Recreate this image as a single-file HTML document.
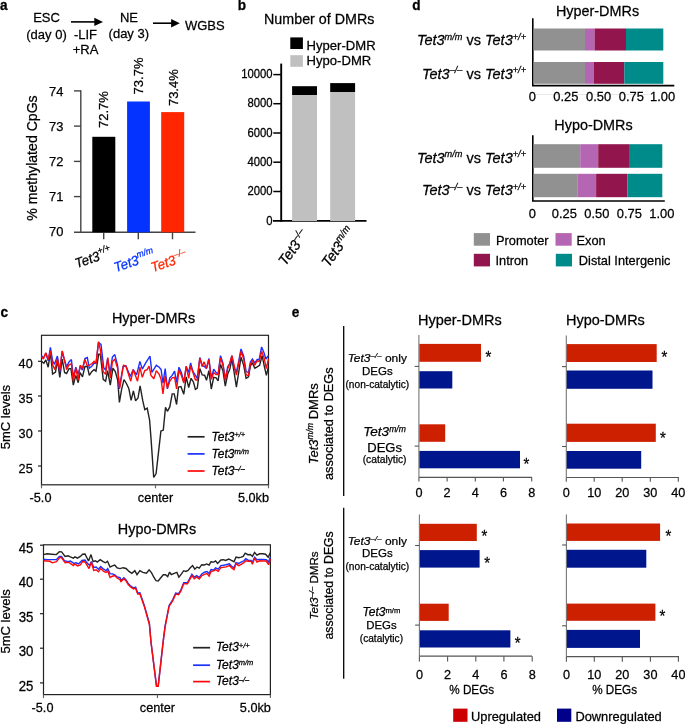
<!DOCTYPE html>
<html><head><meta charset="utf-8"><style>
html,body{margin:0;padding:0;background:#fff;}
body{width:685px;height:724px;overflow:hidden;}
svg{display:block;font-family:"Liberation Sans", sans-serif;-webkit-font-smoothing:antialiased;will-change:transform;}
</style></head><body>
<svg width="685" height="724" viewBox="0 0 685 724">
<rect width="685" height="724" fill="#fff"/>
<text transform="translate(0.1,10) scale(1,1.06)" font-size="13.6" text-anchor="start" font-weight="bold" font-style="normal" fill="#000" stroke="#000" stroke-width="0.25">a</text>
<text transform="translate(237.8,10) scale(1,1.06)" font-size="13.6" text-anchor="start" font-weight="bold" font-style="normal" fill="#000" stroke="#000" stroke-width="0.25">b</text>
<text transform="translate(412.3,10) scale(1,1.06)" font-size="13.6" text-anchor="start" font-weight="bold" font-style="normal" fill="#000" stroke="#000" stroke-width="0.25">d</text>
<text transform="translate(0.4,316.7) scale(1,1.06)" font-size="13.6" text-anchor="start" font-weight="bold" font-style="normal" fill="#000" stroke="#000" stroke-width="0.25">c</text>
<text transform="translate(291.8,316.7) scale(1,1.06)" font-size="13.6" text-anchor="start" font-weight="bold" font-style="normal" fill="#000" stroke="#000" stroke-width="0.25">e</text>
<text transform="translate(46.5,22.4) scale(1,1.04)" font-size="13.0" text-anchor="middle" font-weight="normal" font-style="normal" fill="#000" stroke="#000" stroke-width="0.25">ESC</text>
<text transform="translate(46.5,38.5) scale(1,1.04)" font-size="13.0" text-anchor="middle" font-weight="normal" font-style="normal" fill="#000" stroke="#000" stroke-width="0.25">(day 0)</text>
<text transform="translate(85.5,38.5) scale(1,1.04)" font-size="13.0" text-anchor="middle" font-weight="normal" font-style="normal" fill="#000" stroke="#000" stroke-width="0.25">-LIF</text>
<text transform="translate(85.5,53.5) scale(1,1.04)" font-size="13.0" text-anchor="middle" font-weight="normal" font-style="normal" fill="#000" stroke="#000" stroke-width="0.25">+RA</text>
<text transform="translate(129,22.2) scale(1,1.04)" font-size="13.0" text-anchor="middle" font-weight="normal" font-style="normal" fill="#000" stroke="#000" stroke-width="0.25">NE</text>
<text transform="translate(128.8,38) scale(1,1.04)" font-size="13.0" text-anchor="middle" font-weight="normal" font-style="normal" fill="#000" stroke="#000" stroke-width="0.25">(day 3)</text>
<text transform="translate(185,29.8) scale(1,1.04)" font-size="13" text-anchor="start" font-weight="normal" font-style="normal" fill="#000" stroke="#000" stroke-width="0.25">WGBS</text>
<line x1="71" y1="21.9" x2="96.5" y2="21.9" stroke="#000" stroke-width="1.6"/>
<polygon points="94.3,17.7 103.0,21.9 94.3,26.099999999999998" fill="#000"/>
<line x1="153" y1="23.2" x2="173.3" y2="23.2" stroke="#000" stroke-width="1.6"/>
<polygon points="171.10000000000002,19.0 179.8,23.2 171.10000000000002,27.4" fill="#000"/>
<line x1="80.8" y1="90.3" x2="80.8" y2="232.3" stroke="#444" stroke-width="1.4"/>
<line x1="74" y1="232.3" x2="195.5" y2="232.3" stroke="#444" stroke-width="1.4"/>
<line x1="74" y1="90.9" x2="81" y2="90.9" stroke="#444" stroke-width="1.4"/>
<line x1="74" y1="126.1" x2="81" y2="126.1" stroke="#444" stroke-width="1.4"/>
<line x1="74" y1="161.4" x2="81" y2="161.4" stroke="#444" stroke-width="1.4"/>
<line x1="74" y1="196.6" x2="81" y2="196.6" stroke="#444" stroke-width="1.4"/>
<text transform="translate(63.4,96.1) scale(1,1.0)" font-size="12.9" text-anchor="end" font-weight="normal" font-style="normal" fill="#000" stroke="#000" stroke-width="0.25">74</text>
<text transform="translate(63.4,131.3) scale(1,1.0)" font-size="12.9" text-anchor="end" font-weight="normal" font-style="normal" fill="#000" stroke="#000" stroke-width="0.25">73</text>
<text transform="translate(63.4,166.1) scale(1,1.0)" font-size="12.9" text-anchor="end" font-weight="normal" font-style="normal" fill="#000" stroke="#000" stroke-width="0.25">72</text>
<text transform="translate(63.4,200.8) scale(1,1.0)" font-size="12.9" text-anchor="end" font-weight="normal" font-style="normal" fill="#000" stroke="#000" stroke-width="0.25">71</text>
<text transform="translate(63.4,236.1) scale(1,1.0)" font-size="12.9" text-anchor="end" font-weight="normal" font-style="normal" fill="#000" stroke="#000" stroke-width="0.25">70</text>
<line x1="103.7" y1="232" x2="103.7" y2="239.3" stroke="#444" stroke-width="1.4"/>
<line x1="138.3" y1="232" x2="138.3" y2="239.3" stroke="#444" stroke-width="1.4"/>
<line x1="172.5" y1="232" x2="172.5" y2="239.3" stroke="#444" stroke-width="1.4"/>
<rect x="92.3" y="136.8" width="23" height="95.5" fill="#000"/>
<rect x="127.1" y="101.5" width="22.8" height="130.8" fill="#0433FF"/>
<rect x="161.2" y="112.1" width="23" height="120.2" fill="#FF2600"/>
<text transform="translate(107.5,128) rotate(-90) scale(1,1.0)" font-size="13" text-anchor="start" font-weight="normal" font-style="normal" fill="#000" stroke="#000" stroke-width="0.25">72.7%</text>
<text transform="translate(142.6,94.4) rotate(-90) scale(1,1.0)" font-size="13" text-anchor="start" font-weight="normal" font-style="normal" fill="#000" stroke="#000" stroke-width="0.25">73.7%</text>
<text transform="translate(178.3,106.1) rotate(-90) scale(1,1.0)" font-size="13" text-anchor="start" font-weight="normal" font-style="normal" fill="#000" stroke="#000" stroke-width="0.25">73.4%</text>
<text transform="translate(37.3,158) rotate(-90) scale(1,1.0)" font-size="14.1" text-anchor="middle" font-weight="normal" font-style="normal" fill="#000" stroke="#000" stroke-width="0.25">% methylated CpGs</text>
<text transform="translate(76.8,268.2) rotate(-19) scale(1,1.04)" font-size="13.2" text-anchor="start" font-weight="normal" font-style="italic" fill="#000" stroke="#000" stroke-width="0.25">Tet3<tspan font-size="8.8" dy="-6">+/+</tspan></text>
<text transform="translate(115.8,272.2) rotate(-19) scale(1,1.04)" font-size="13.2" text-anchor="start" font-weight="normal" font-style="italic" fill="#0433FF" stroke="#0433FF" stroke-width="0.25">Tet3<tspan font-size="8.8" dy="-6">m/m</tspan></text>
<text transform="translate(152.8,272.2) rotate(-19) scale(1,1.04)" font-size="13.2" text-anchor="start" font-weight="normal" font-style="italic" fill="#FF2600" stroke="#FF2600" stroke-width="0.25">Tet3<tspan font-size="8.8" dy="-6">&#8211;/&#8211;</tspan></text>
<text transform="translate(319.2,24) scale(1,1.04)" font-size="14.3" text-anchor="middle" font-weight="normal" font-style="normal" fill="#000" stroke="#000" stroke-width="0.25">Number of DMRs</text>
<rect x="290.3" y="37.4" width="12.6" height="11.6" fill="#000"/>
<rect x="290.3" y="55.2" width="12.6" height="11.6" fill="#C0C0C0"/>
<text transform="translate(306.5,49.8) scale(1,1.04)" font-size="13.1" text-anchor="start" font-weight="normal" font-style="normal" fill="#000" stroke="#000" stroke-width="0.25">Hyper-DMR</text>
<text transform="translate(306.5,65.4) scale(1,1.04)" font-size="13.1" text-anchor="start" font-weight="normal" font-style="normal" fill="#000" stroke="#000" stroke-width="0.25">Hypo-DMR</text>
<line x1="281.2" y1="63.6" x2="281.2" y2="221.8" stroke="#000" stroke-width="1.9"/>
<line x1="273" y1="220.9" x2="366.5" y2="220.9" stroke="#000" stroke-width="1.8"/>
<line x1="273.3" y1="74.6" x2="281" y2="74.6" stroke="#000" stroke-width="1.5"/>
<text transform="translate(272.5,78.19999999999999) scale(1,1.09)" font-size="11.3" text-anchor="end" font-weight="normal" font-style="normal" fill="#000" stroke="#000" stroke-width="0.25">10000</text>
<line x1="273.3" y1="103.7" x2="281" y2="103.7" stroke="#000" stroke-width="1.5"/>
<text transform="translate(272.5,107.3) scale(1,1.09)" font-size="11.3" text-anchor="end" font-weight="normal" font-style="normal" fill="#000" stroke="#000" stroke-width="0.25">8000</text>
<line x1="273.3" y1="133" x2="281" y2="133" stroke="#000" stroke-width="1.5"/>
<text transform="translate(272.5,136.6) scale(1,1.09)" font-size="11.3" text-anchor="end" font-weight="normal" font-style="normal" fill="#000" stroke="#000" stroke-width="0.25">6000</text>
<line x1="273.3" y1="162.2" x2="281" y2="162.2" stroke="#000" stroke-width="1.5"/>
<text transform="translate(272.5,165.79999999999998) scale(1,1.09)" font-size="11.3" text-anchor="end" font-weight="normal" font-style="normal" fill="#000" stroke="#000" stroke-width="0.25">4000</text>
<line x1="273.3" y1="191.5" x2="281" y2="191.5" stroke="#000" stroke-width="1.5"/>
<text transform="translate(272.5,195.1) scale(1,1.09)" font-size="11.3" text-anchor="end" font-weight="normal" font-style="normal" fill="#000" stroke="#000" stroke-width="0.25">2000</text>
<text transform="translate(272.5,224.5) scale(1,1.09)" font-size="11.3" text-anchor="end" font-weight="normal" font-style="normal" fill="#000" stroke="#000" stroke-width="0.25">0</text>
<rect x="292.1" y="95" width="24.9" height="126" fill="#C0C0C0"/>
<rect x="292.1" y="86.2" width="24.9" height="8.8" fill="#000"/>
<rect x="330.2" y="92" width="24.9" height="129" fill="#C0C0C0"/>
<rect x="330.2" y="83.1" width="24.9" height="8.9" fill="#000"/>
<text transform="translate(309,234.3) rotate(-54) scale(1,1.04)" font-size="14" text-anchor="end" font-weight="normal" font-style="italic" fill="#000" stroke="#000" stroke-width="0.25">Tet3<tspan font-size="9.5" dy="-5.5">&#8211;/&#8211;</tspan></text>
<text transform="translate(355.3,231.5) rotate(-54) scale(1,1.04)" font-size="14" text-anchor="end" font-weight="normal" font-style="italic" fill="#000" stroke="#000" stroke-width="0.25">Tet3<tspan font-size="9.5" dy="-5.5">m/m</tspan></text>
<text transform="translate(597.5,15.7) scale(1,1.04)" font-size="14.4" text-anchor="middle" font-weight="normal" font-style="normal" fill="#000" stroke="#000" stroke-width="0.25">Hyper-DMRs</text>
<line x1="532.8" y1="18.2" x2="532.8" y2="85.6" stroke="#000" stroke-width="1.6"/>
<line x1="532" y1="85.6" x2="674.3" y2="85.6" stroke="#000" stroke-width="1.6"/>
<rect x="533.6" y="28.5" width="51.40" height="22.00" fill="#919191"/>
<rect x="585" y="28.5" width="9.50" height="22.00" fill="#B566B2"/>
<rect x="594.5" y="28.5" width="31.50" height="22.00" fill="#92164D"/>
<rect x="626" y="28.5" width="37.30" height="22.00" fill="#008B8B"/>
<rect x="533.6" y="62" width="51.40" height="21.80" fill="#919191"/>
<rect x="585" y="62" width="8.90" height="21.80" fill="#B566B2"/>
<rect x="593.9" y="62" width="30.40" height="21.80" fill="#92164D"/>
<rect x="624.3" y="62" width="39.00" height="21.80" fill="#008B8B"/>
<line x1="536" y1="94.5" x2="651" y2="94.5" stroke="#e6e6ec" stroke-width="0.9"/>
<text transform="translate(532.3,101.4) scale(1,1.04)" font-size="12.9" text-anchor="middle" font-weight="normal" font-style="normal" fill="#000" stroke="#000" stroke-width="0.25">0</text>
<text transform="translate(565.9,101.4) scale(1,1.04)" font-size="12.9" text-anchor="middle" font-weight="normal" font-style="normal" fill="#000" stroke="#000" stroke-width="0.25">0.25</text>
<text transform="translate(598.6,101.4) scale(1,1.04)" font-size="12.9" text-anchor="middle" font-weight="normal" font-style="normal" fill="#000" stroke="#000" stroke-width="0.25">0.50</text>
<text transform="translate(631.3,101.4) scale(1,1.04)" font-size="12.9" text-anchor="middle" font-weight="normal" font-style="normal" fill="#000" stroke="#000" stroke-width="0.25">0.75</text>
<text transform="translate(662.5,101.4) scale(1,1.04)" font-size="12.9" text-anchor="middle" font-weight="normal" font-style="normal" fill="#000" stroke="#000" stroke-width="0.25">1.00</text>
<text transform="translate(526,45.4) scale(1,1.04)" font-size="14.5" text-anchor="end" font-weight="normal" font-style="normal" fill="#000" stroke="#000" stroke-width="0.25"><tspan font-style="italic">Tet3<tspan font-size="9.2" dy="-5.5">m/m</tspan></tspan><tspan dy="5.5"> vs </tspan><tspan font-style="italic">Tet3<tspan font-size="9.2" dy="-5.5">+/+</tspan></tspan></text>
<text transform="translate(526,78.7) scale(1,1.04)" font-size="14.5" text-anchor="end" font-weight="normal" font-style="normal" fill="#000" stroke="#000" stroke-width="0.25"><tspan font-style="italic">Tet3<tspan font-size="9.2" dy="-5.5">&#8211;/&#8211;</tspan></tspan><tspan dy="5.5"> vs </tspan><tspan font-style="italic">Tet3<tspan font-size="9.2" dy="-5.5">+/+</tspan></tspan></text>
<text transform="translate(593.5,129.7) scale(1,1.04)" font-size="14.4" text-anchor="middle" font-weight="normal" font-style="normal" fill="#000" stroke="#000" stroke-width="0.25">Hypo-DMRs</text>
<line x1="532.8" y1="135.3" x2="532.8" y2="201" stroke="#000" stroke-width="1.6"/>
<line x1="532" y1="201" x2="664.8" y2="201" stroke="#000" stroke-width="1.6"/>
<rect x="533.6" y="144.2" width="46.60" height="23.60" fill="#919191"/>
<rect x="580.2" y="144.2" width="18.00" height="23.60" fill="#B566B2"/>
<rect x="598.2" y="144.2" width="30.80" height="23.60" fill="#92164D"/>
<rect x="629" y="144.2" width="33.30" height="23.60" fill="#008B8B"/>
<rect x="533.6" y="173.8" width="44.20" height="23.40" fill="#919191"/>
<rect x="577.8" y="173.8" width="18.30" height="23.40" fill="#B566B2"/>
<rect x="596.1" y="173.8" width="31.30" height="23.40" fill="#92164D"/>
<rect x="627.4" y="173.8" width="34.90" height="23.40" fill="#008B8B"/>
<text transform="translate(532.3,218.3) scale(1,1.04)" font-size="12.9" text-anchor="middle" font-weight="normal" font-style="normal" fill="#000" stroke="#000" stroke-width="0.25">0</text>
<text transform="translate(564.3,218.3) scale(1,1.04)" font-size="12.9" text-anchor="middle" font-weight="normal" font-style="normal" fill="#000" stroke="#000" stroke-width="0.25">0.25</text>
<text transform="translate(596.8,218.3) scale(1,1.04)" font-size="12.9" text-anchor="middle" font-weight="normal" font-style="normal" fill="#000" stroke="#000" stroke-width="0.25">0.50</text>
<text transform="translate(629.3,218.3) scale(1,1.04)" font-size="12.9" text-anchor="middle" font-weight="normal" font-style="normal" fill="#000" stroke="#000" stroke-width="0.25">0.75</text>
<text transform="translate(661.9,218.3) scale(1,1.04)" font-size="12.9" text-anchor="middle" font-weight="normal" font-style="normal" fill="#000" stroke="#000" stroke-width="0.25">1.00</text>
<text transform="translate(526,162.7) scale(1,1.04)" font-size="14.5" text-anchor="end" font-weight="normal" font-style="normal" fill="#000" stroke="#000" stroke-width="0.25"><tspan font-style="italic">Tet3<tspan font-size="9.2" dy="-5.5">m/m</tspan></tspan><tspan dy="5.5"> vs </tspan><tspan font-style="italic">Tet3<tspan font-size="9.2" dy="-5.5">+/+</tspan></tspan></text>
<text transform="translate(526,195.4) scale(1,1.04)" font-size="14.5" text-anchor="end" font-weight="normal" font-style="normal" fill="#000" stroke="#000" stroke-width="0.25"><tspan font-style="italic">Tet3<tspan font-size="9.2" dy="-5.5">&#8211;/&#8211;</tspan></tspan><tspan dy="5.5"> vs </tspan><tspan font-style="italic">Tet3<tspan font-size="9.2" dy="-5.5">+/+</tspan></tspan></text>
<rect x="473.8" y="233.1" width="16.2" height="12.6" fill="#919191"/>
<text transform="translate(496,244.7) scale(1,1.04)" font-size="12.8" text-anchor="start" font-weight="normal" font-style="normal" fill="#000" stroke="#000" stroke-width="0.25">Promoter</text>
<rect x="555.5" y="233.1" width="16.2" height="12.6" fill="#B566B2"/>
<text transform="translate(576.5,244.7) scale(1,1.04)" font-size="12.8" text-anchor="start" font-weight="normal" font-style="normal" fill="#000" stroke="#000" stroke-width="0.25">Exon</text>
<rect x="473.8" y="253.8" width="16.2" height="12.6" fill="#92164D"/>
<text transform="translate(495.5,265.40000000000003) scale(1,1.04)" font-size="12.8" text-anchor="start" font-weight="normal" font-style="normal" fill="#000" stroke="#000" stroke-width="0.25">Intron</text>
<rect x="555.8" y="253.8" width="16.2" height="12.6" fill="#008B8B"/>
<text transform="translate(578.8,265.40000000000003) scale(1,1.04)" font-size="12.8" text-anchor="start" font-weight="normal" font-style="normal" fill="#000" stroke="#000" stroke-width="0.25">Distal Intergenic</text>
<rect x="41.5" y="335.3" width="227.0" height="149.5" fill="none" stroke="#222" stroke-width="1.2"/>
<text transform="translate(153.5,323) scale(1,1.04)" font-size="14.4" text-anchor="middle" font-weight="normal" font-style="normal" fill="#000" stroke="#000" stroke-width="0.25">Hyper-DMRs</text>
<line x1="38.0" y1="361.3" x2="41.5" y2="361.3" stroke="#222" stroke-width="1.2"/>
<text transform="translate(32.7,368.3) scale(1,1.04)" font-size="12.7" text-anchor="end" font-weight="normal" font-style="normal" fill="#000" stroke="#000" stroke-width="0.25">40</text>
<line x1="38.0" y1="396" x2="41.5" y2="396" stroke="#222" stroke-width="1.2"/>
<text transform="translate(32.7,403) scale(1,1.04)" font-size="12.7" text-anchor="end" font-weight="normal" font-style="normal" fill="#000" stroke="#000" stroke-width="0.25">35</text>
<line x1="38.0" y1="431" x2="41.5" y2="431" stroke="#222" stroke-width="1.2"/>
<text transform="translate(32.7,438) scale(1,1.04)" font-size="12.7" text-anchor="end" font-weight="normal" font-style="normal" fill="#000" stroke="#000" stroke-width="0.25">30</text>
<line x1="38.0" y1="466" x2="41.5" y2="466" stroke="#222" stroke-width="1.2"/>
<text transform="translate(32.7,473) scale(1,1.04)" font-size="12.7" text-anchor="end" font-weight="normal" font-style="normal" fill="#000" stroke="#000" stroke-width="0.25">25</text>
<line x1="41.5" y1="484.8" x2="41.5" y2="488.3" stroke="#666" stroke-width="1.2"/>
<line x1="155.5" y1="484.8" x2="155.5" y2="488.3" stroke="#666" stroke-width="1.2"/>
<line x1="268.5" y1="484.8" x2="268.5" y2="488.3" stroke="#666" stroke-width="1.2"/>
<text transform="translate(40.5,501.7) scale(1,1.04)" font-size="12.7" text-anchor="middle" font-weight="normal" font-style="normal" fill="#000" stroke="#000" stroke-width="0.25">-5.0</text>
<text transform="translate(155.5,501.7) scale(1,1.04)" font-size="12.7" text-anchor="middle" font-weight="normal" font-style="normal" fill="#000" stroke="#000" stroke-width="0.25">center</text>
<text transform="translate(269.0,501.7) scale(1,1.04)" font-size="12.7" text-anchor="end" font-weight="normal" font-style="normal" fill="#000" stroke="#000" stroke-width="0.25">5.0kb</text>
<text transform="translate(9.8,417.05) rotate(-90) scale(1,1.0)" font-size="13.0" text-anchor="middle" font-weight="normal" font-style="normal" fill="#000" stroke="#000" stroke-width="0.25">5mC levels</text>
<polyline points="41.5,361.4 43.9,363.3 45.8,359.9 48.2,367.2 50.4,352.2 52.6,374.0 55.5,372.0 57.4,359.9 59.8,377.3 62.2,359.0 64.6,372.5 66.6,373.5 69.0,368.6 70.9,368.6 73.3,385.1 75.8,375.4 78.2,382.7 80.1,372.5 82.5,376.9 84.9,366.7 87.3,366.2 89.3,375.4 91.7,371.6 94.1,369.6 96.0,371.1 98.7,354.1 100.3,354.1 103.2,379.3 105.6,381.2 107.6,370.6 110.3,385.1 112.9,368.2 115.3,371.6 117.7,380.2 119.4,402.4 121.6,389.3 124.0,379.7 126.4,383.5 128.8,388.4 131.1,400.4 133.4,390.8 135.6,400.9 138.0,398.0 140.1,385.9 142.8,400.9 144.8,409.6 147.2,408.2 149.6,420.2 151.1,439.6 153.7,477.5 156.1,473.6 160.9,431.1 163.3,430.1 165.5,407.4 167.4,411.3 169.8,406.9 172.2,393.9 174.2,393.9 176.6,404.5 178.5,387.0 180.9,386.5 183.8,394.2 186.2,376.9 188.7,387.5 191.1,378.3 193.5,382.2 195.4,389.4 197.3,388.0 199.8,368.6 202.2,374.9 204.6,375.2 206.5,380.3 208.9,370.6 211.3,389.0 213.7,377.4 216.1,377.9 218.1,380.8 220.5,364.3 222.9,370.6 225.3,386.1 227.7,374.0 229.7,369.6 231.9,359.0 234.0,371.6 236.4,387.1 238.8,371.6 241.0,357.1 243.7,365.3 246.1,378.4 248.5,376.9 250.4,365.8 252.4,362.9 254.8,368.2 257.2,366.8 259.6,365.3 262.1,355.6 264.2,365.8 266.4,375.4 268.4,366.8" fill="none" stroke="#222" stroke-width="1.4" stroke-linejoin="miter" stroke-miterlimit="2"/>
<polyline points="41.5,355.6 43.4,358.0 45.8,353.2 48.2,360.9 50.4,347.4 52.6,360.9 54.5,364.3 57.4,356.1 59.8,371.6 62.2,351.3 64.2,359.0 66.6,366.7 69.0,361.9 71.4,359.5 73.3,377.3 75.8,367.2 78.2,374.4 80.1,366.7 82.5,370.1 84.9,358.5 87.3,357.5 89.3,368.2 91.7,366.2 94.1,363.3 96.0,363.3 98.5,342.6 101.0,344.5 103.7,367.7 105.6,370.1 107.6,358.5 110.0,373.5 112.4,357.1 114.8,354.6 117.7,365.8 119.2,388.9 123.0,366.7 125.9,365.8 130.3,376.4 133.2,369.6 136.6,374.9 139.9,361.4 142.3,369.1 145.7,362.9 150.0,356.1 151.9,372.5 156.3,365.3 159.2,367.2 161.1,369.6 163.0,383.1 165.2,368.6 167.4,388.9 169.8,377.8 172.2,375.4 174.6,371.1 176.6,382.7 179.0,367.2 181.4,372.5 183.8,382.2 186.2,366.7 188.7,372.5 190.6,362.9 193.0,371.6 195.4,375.4 197.3,378.3 199.8,357.5 202.2,365.8 204.1,366.2 206.5,368.6 208.9,358.5 211.3,378.4 213.7,369.2 216.1,372.6 218.1,374.0 220.5,355.6 222.9,362.9 225.3,379.3 227.7,366.8 229.7,363.9 231.9,355.6 234.0,367.7 236.4,372.1 238.8,360.9 241.0,348.9 243.7,356.1 246.1,371.6 248.5,372.6 250.4,361.9 252.4,359.0 254.8,362.9 257.2,359.5 259.2,359.5 261.6,346.9 264.0,352.7 265.9,359.0 268.4,355.6" fill="none" stroke="#1A30FF" stroke-width="1.4" stroke-linejoin="miter" stroke-miterlimit="2"/>
<polyline points="41.5,356.6 43.4,359.0 45.8,352.7 48.2,359.5 50.4,350.8 52.6,364.8 55.0,369.6 57.4,359.0 59.8,370.6 62.2,350.8 64.6,360.9 66.6,369.6 69.0,364.8 71.4,363.8 73.3,381.2 75.8,368.2 78.2,380.2 80.1,365.3 82.5,368.2 84.9,359.5 87.3,365.8 89.8,364.8 91.7,363.8 94.1,361.4 96.0,363.8 98.5,341.6 100.3,349.3 103.2,371.6 105.6,374.4 107.8,357.5 110.3,377.8 112.4,361.9 114.8,359.0 117.7,368.6 119.6,388.4 123.5,365.3 125.9,366.2 130.8,381.2 133.2,369.6 137.5,381.2 139.9,367.2 142.3,377.3 144.8,370.6 147.2,369.6 149.1,366.2 151.0,375.4 153.9,378.8 156.3,370.6 159.2,374.4 161.1,379.3 163.0,393.8 165.2,375.9 167.4,388.0 169.8,381.2 172.2,377.8 174.6,377.3 176.6,388.9 179.0,370.1 181.4,375.4 183.8,383.1 186.2,366.2 188.7,378.3 190.6,365.8 193.0,372.5 195.4,379.8 197.3,380.2 199.8,358.0 202.2,366.2 204.1,361.9 206.5,368.2 208.9,359.5 211.3,379.3 213.7,372.6 216.1,374.5 218.1,374.5 220.5,358.1 222.9,364.8 225.3,380.3 227.7,368.7 229.7,363.4 231.9,355.6 234.0,364.8 236.4,375.0 238.8,362.9 241.0,351.3 243.7,359.0 246.1,375.0 248.5,375.4 250.4,363.9 252.4,360.9 254.8,364.8 257.2,360.9 259.2,361.4 261.6,351.3 264.0,357.6 266.4,368.7 268.4,359.0" fill="none" stroke="#FF0808" stroke-width="1.4" stroke-linejoin="miter" stroke-miterlimit="2"/>
<line x1="187.6" y1="436.8" x2="204.6" y2="436.8" stroke="#222" stroke-width="1.7"/>
<text transform="translate(211.5,440.5) scale(1,1.04)" font-size="12" text-anchor="start" font-weight="normal" font-style="italic" fill="#000" stroke="#000" stroke-width="0.25">Tet3<tspan font-size="7.5" dy="-3.5">+/+</tspan></text>
<line x1="187.6" y1="453.9" x2="204.6" y2="453.9" stroke="#1A30FF" stroke-width="1.7"/>
<text transform="translate(211.5,457.59999999999997) scale(1,1.04)" font-size="12" text-anchor="start" font-weight="normal" font-style="italic" fill="#000" stroke="#000" stroke-width="0.25">Tet3<tspan font-size="7.5" dy="-3.5">m/m</tspan></text>
<line x1="187.6" y1="471" x2="204.6" y2="471" stroke="#FF0808" stroke-width="1.7"/>
<text transform="translate(211.5,474.7) scale(1,1.04)" font-size="12" text-anchor="start" font-weight="normal" font-style="italic" fill="#000" stroke="#000" stroke-width="0.25">Tet3<tspan font-size="7.5" dy="-3.5">&#8211;/&#8211;</tspan></text>
<rect x="43.5" y="544.8" width="226.89999999999998" height="149.80000000000007" fill="none" stroke="#222" stroke-width="1.2"/>
<text transform="translate(157,533.9) scale(1,1.04)" font-size="14.4" text-anchor="middle" font-weight="normal" font-style="normal" fill="#000" stroke="#000" stroke-width="0.25">Hypo-DMRs</text>
<line x1="40.0" y1="545.2" x2="43.5" y2="545.2" stroke="#222" stroke-width="1.2"/>
<text transform="translate(33.4,553.2) scale(1,1.04)" font-size="13.2" text-anchor="end" font-weight="normal" font-style="normal" fill="#000" stroke="#000" stroke-width="0.25">45</text>
<line x1="40.0" y1="579.2" x2="43.5" y2="579.2" stroke="#222" stroke-width="1.2"/>
<text transform="translate(33.4,587.2) scale(1,1.04)" font-size="13.2" text-anchor="end" font-weight="normal" font-style="normal" fill="#000" stroke="#000" stroke-width="0.25">40</text>
<line x1="40.0" y1="613.7" x2="43.5" y2="613.7" stroke="#222" stroke-width="1.2"/>
<text transform="translate(33.4,621.7) scale(1,1.04)" font-size="13.2" text-anchor="end" font-weight="normal" font-style="normal" fill="#000" stroke="#000" stroke-width="0.25">35</text>
<line x1="40.0" y1="648.2" x2="43.5" y2="648.2" stroke="#222" stroke-width="1.2"/>
<text transform="translate(33.4,656.2) scale(1,1.04)" font-size="13.2" text-anchor="end" font-weight="normal" font-style="normal" fill="#000" stroke="#000" stroke-width="0.25">30</text>
<line x1="40.0" y1="682.9" x2="43.5" y2="682.9" stroke="#222" stroke-width="1.2"/>
<text transform="translate(33.4,690.9) scale(1,1.04)" font-size="13.2" text-anchor="end" font-weight="normal" font-style="normal" fill="#000" stroke="#000" stroke-width="0.25">25</text>
<line x1="43.5" y1="694.6" x2="43.5" y2="698.1" stroke="#666" stroke-width="1.2"/>
<line x1="157.45" y1="694.6" x2="157.45" y2="698.1" stroke="#666" stroke-width="1.2"/>
<line x1="270.4" y1="694.6" x2="270.4" y2="698.1" stroke="#666" stroke-width="1.2"/>
<text transform="translate(42.5,711.7) scale(1,1.04)" font-size="12.7" text-anchor="middle" font-weight="normal" font-style="normal" fill="#000" stroke="#000" stroke-width="0.25">-5.0</text>
<text transform="translate(157.45,711.7) scale(1,1.04)" font-size="12.7" text-anchor="middle" font-weight="normal" font-style="normal" fill="#000" stroke="#000" stroke-width="0.25">center</text>
<text transform="translate(270.9,711.7) scale(1,1.04)" font-size="12.7" text-anchor="end" font-weight="normal" font-style="normal" fill="#000" stroke="#000" stroke-width="0.25">5.0kb</text>
<text transform="translate(9.8,621.3000000000001) rotate(-90) scale(1,1.0)" font-size="13.0" text-anchor="middle" font-weight="normal" font-style="normal" fill="#000" stroke="#000" stroke-width="0.25">5mC levels</text>
<polyline points="43.5,554.6 47.0,553.8 51.7,554.2 56.4,554.6 59.3,551.7 61.6,551.9 65.1,556.4 68.0,555.8 70.4,556.9 73.3,558.1 75.0,556.9 77.4,558.1 80.3,556.4 82.6,554.2 85.0,554.0 88.5,561.0 91.0,554.6 93.1,561.6 95.5,560.8 97.2,562.0 100.2,559.6 103.1,561.6 105.4,562.8 107.5,561.3 110.1,567.1 112.4,565.9 114.7,565.1 117.1,567.8 120.0,568.6 123.1,567.7 126.1,568.5 129.0,571.4 131.9,573.3 134.8,570.7 137.0,574.7 139.9,570.7 142.8,572.4 146.5,573.3 149.1,569.9 151.6,572.9 153.8,577.2 156.0,580.6 158.2,580.9 160.4,578.2 163.3,574.7 165.5,574.7 167.7,576.5 169.6,572.1 171.3,574.7 174.2,573.3 176.9,572.4 178.9,577.2 181.5,573.9 183.7,570.7 185.9,571.4 188.1,570.4 190.3,567.7 192.6,565.6 194.8,569.2 197.0,567.0 199.2,568.2 201.8,564.7 204.4,565.0 206.4,563.9 209.1,565.0 211.0,561.7 213.7,562.1 215.6,561.0 217.6,563.4 220.9,560.0 223.5,559.7 225.5,560.4 228.8,559.0 231.4,560.4 234.0,561.7 236.0,557.1 238.6,557.7 241.2,557.1 243.2,556.4 245.2,553.1 247.8,554.7 250.4,554.5 252.4,556.4 254.6,552.5 257.0,555.1 259.6,553.8 262.9,553.8 265.6,554.2 268.2,557.3 270.4,552.5" fill="none" stroke="#222" stroke-width="1.4" stroke-linejoin="miter" stroke-miterlimit="2"/>
<polyline points="43.5,559.3 47.0,559.6 51.7,559.6 56.4,559.6 59.3,556.4 61.6,556.4 64.5,560.8 68.0,561.6 70.4,561.0 73.9,563.4 76.2,562.8 78.5,563.9 82.0,560.4 85.0,560.1 87.9,563.9 89.6,565.1 91.4,561.6 93.7,567.5 96.1,567.1 98.4,569.2 100.7,566.6 103.7,569.2 106.0,570.6 107.7,568.6 110.1,573.9 112.4,573.9 114.7,574.8 117.1,576.8 120.0,577.6 121.0,580.6 123.9,577.7 126.1,579.9 128.2,583.5 130.4,585.7 133.4,587.9 135.6,587.2 137.7,593.0 139.9,592.7 144.3,605.4 149.4,623.5 151.0,642.1 156.5,686.2 158.2,686.2 163.1,642.1 165.1,625.8 169.1,605.4 172.8,599.6 175.7,593.0 178.6,593.7 180.8,590.1 183.7,582.8 187.4,582.8 191.9,574.3 194.3,577.2 196.7,575.7 199.2,577.5 201.8,573.9 204.4,572.2 207.1,571.5 209.1,573.5 211.0,569.6 213.7,570.0 215.6,567.9 218.2,569.2 220.9,565.6 223.5,565.2 226.1,564.7 229.4,563.9 231.4,566.0 234.0,567.9 236.0,562.6 238.6,563.4 241.2,562.1 243.9,560.8 245.8,558.7 248.5,560.4 251.1,560.4 252.4,562.3 254.6,557.3 257.0,559.7 259.6,559.5 262.9,559.5 266.2,559.7 268.6,562.1 270.4,557.1" fill="none" stroke="#1A30FF" stroke-width="1.4" stroke-linejoin="miter" stroke-miterlimit="2"/>
<polyline points="43.5,560.8 47.0,561.0 49.9,561.3 52.3,562.8 56.4,561.6 59.9,557.3 61.6,557.8 65.1,562.8 68.0,562.2 70.4,563.4 73.3,565.5 75.0,563.9 77.4,565.9 80.3,564.8 82.6,561.6 85.0,562.0 89.0,568.6 91.4,562.2 93.7,570.4 96.1,569.8 98.4,571.8 100.7,568.6 103.7,571.5 106.0,572.5 107.7,571.0 110.1,577.4 112.4,576.2 114.7,575.6 117.1,578.0 120.0,579.7 121.0,581.6 123.9,578.7 126.1,580.9 128.2,584.5 130.4,586.7 133.4,588.9 135.6,588.2 137.7,594.0 139.9,593.7 144.3,606.4 149.4,624.5 151.0,642.1 156.5,686.2 158.2,686.2 163.1,642.1 165.1,626.8 169.1,606.4 172.8,600.6 175.7,594.0 178.6,594.7 180.8,591.1 183.7,583.8 187.4,583.8 191.9,575.6 194.3,578.7 196.7,577.0 199.2,579.1 201.8,575.5 204.4,574.4 207.1,573.5 209.1,576.1 211.0,571.5 213.7,570.9 215.6,569.6 218.2,571.3 220.9,567.6 223.5,567.3 226.1,566.9 229.4,565.6 231.4,567.6 234.0,569.6 236.0,563.6 238.6,565.6 241.2,564.3 243.9,562.6 245.8,560.8 248.5,561.3 251.1,561.3 252.4,564.3 254.6,558.1 257.0,562.1 259.6,560.8 262.9,561.0 266.2,561.0 268.6,564.7 270.4,559.0" fill="none" stroke="#FF0808" stroke-width="1.4" stroke-linejoin="miter" stroke-miterlimit="2"/>
<line x1="193.1" y1="647.7" x2="210.1" y2="647.7" stroke="#222" stroke-width="1.7"/>
<text transform="translate(215.9,651.4000000000001) scale(1,1.04)" font-size="12" text-anchor="start" font-weight="normal" font-style="italic" fill="#000" stroke="#000" stroke-width="0.25">Tet3<tspan font-size="7.5" dy="-3.5">+/+</tspan></text>
<line x1="193.1" y1="665.2" x2="210.1" y2="665.2" stroke="#1A30FF" stroke-width="1.7"/>
<text transform="translate(215.9,668.9000000000001) scale(1,1.04)" font-size="12" text-anchor="start" font-weight="normal" font-style="italic" fill="#000" stroke="#000" stroke-width="0.25">Tet3<tspan font-size="7.5" dy="-3.5">m/m</tspan></text>
<line x1="193.1" y1="681.6" x2="210.1" y2="681.6" stroke="#FF0808" stroke-width="1.7"/>
<text transform="translate(215.9,685.3000000000001) scale(1,1.04)" font-size="12" text-anchor="start" font-weight="normal" font-style="italic" fill="#000" stroke="#000" stroke-width="0.25">Tet3<tspan font-size="7.5" dy="-3.5">&#8211;/&#8211;</tspan></text>
<line x1="343.7" y1="326" x2="343.7" y2="496" stroke="#000" stroke-width="1.3"/>
<line x1="343.7" y1="507.7" x2="343.7" y2="678.7" stroke="#000" stroke-width="1.3"/>
<text transform="translate(459.8,325.1) scale(1,1.04)" font-size="14.5" text-anchor="middle" font-weight="normal" font-style="normal" fill="#000" stroke="#000" stroke-width="0.25">Hyper-DMRs</text>
<text transform="translate(605.4,325) scale(1,1.04)" font-size="14.5" text-anchor="middle" font-weight="normal" font-style="normal" fill="#000" stroke="#000" stroke-width="0.25">Hypo-DMRs</text>
<line x1="418.9" y1="335.1" x2="418.9" y2="477.4" stroke="#777" stroke-width="1.1"/>
<line x1="418.9" y1="477.4" x2="532" y2="477.4" stroke="#555" stroke-width="1.2"/>
<line x1="418.9" y1="477.4" x2="418.9" y2="481.59999999999997" stroke="#555" stroke-width="1.1"/>
<line x1="447.1" y1="477.4" x2="447.1" y2="481.59999999999997" stroke="#555" stroke-width="1.1"/>
<line x1="475.3" y1="477.4" x2="475.3" y2="481.59999999999997" stroke="#555" stroke-width="1.1"/>
<line x1="503.4" y1="477.4" x2="503.4" y2="481.59999999999997" stroke="#555" stroke-width="1.1"/>
<line x1="531.7" y1="477.4" x2="531.7" y2="481.59999999999997" stroke="#555" stroke-width="1.1"/>
<line x1="414.59999999999997" y1="366.4" x2="418.9" y2="366.4" stroke="#555" stroke-width="1.1"/>
<line x1="414.59999999999997" y1="446.1" x2="418.9" y2="446.1" stroke="#555" stroke-width="1.1"/>
<text transform="translate(418.9,496.79999999999995) scale(1,1.04)" font-size="12.7" text-anchor="middle" font-weight="normal" font-style="normal" fill="#000" stroke="#000" stroke-width="0.25">0</text>
<text transform="translate(447.1,496.79999999999995) scale(1,1.04)" font-size="12.7" text-anchor="middle" font-weight="normal" font-style="normal" fill="#000" stroke="#000" stroke-width="0.25">2</text>
<text transform="translate(475.3,496.79999999999995) scale(1,1.04)" font-size="12.7" text-anchor="middle" font-weight="normal" font-style="normal" fill="#000" stroke="#000" stroke-width="0.25">4</text>
<text transform="translate(503.4,496.79999999999995) scale(1,1.04)" font-size="12.7" text-anchor="middle" font-weight="normal" font-style="normal" fill="#000" stroke="#000" stroke-width="0.25">6</text>
<text transform="translate(531.7,496.79999999999995) scale(1,1.04)" font-size="12.7" text-anchor="middle" font-weight="normal" font-style="normal" fill="#000" stroke="#000" stroke-width="0.25">8</text>
<rect x="419.4" y="343.9" width="61.60" height="17.90" fill="#CD2000"/>
<rect x="419.4" y="371.2" width="32.90" height="17.30" fill="#00168C"/>
<rect x="419.4" y="424.3" width="25.80" height="17.50" fill="#CD2000"/>
<rect x="419.4" y="450.9" width="100.60" height="17.40" fill="#00168C"/>
<text transform="translate(488.4,362.8) scale(1,1.04)" font-size="15" text-anchor="middle" font-weight="normal" font-style="normal" fill="#000" stroke="#000" stroke-width="0.25">*</text>
<text transform="translate(526.4,469.9) scale(1,1.04)" font-size="15" text-anchor="middle" font-weight="normal" font-style="normal" fill="#000" stroke="#000" stroke-width="0.25">*</text>
<line x1="566.3" y1="335.5" x2="566.3" y2="477.5" stroke="#777" stroke-width="1.1"/>
<line x1="566.3" y1="477.5" x2="679" y2="477.5" stroke="#555" stroke-width="1.2"/>
<line x1="566.3" y1="477.5" x2="566.3" y2="481.7" stroke="#555" stroke-width="1.1"/>
<line x1="594.2" y1="477.5" x2="594.2" y2="481.7" stroke="#555" stroke-width="1.1"/>
<line x1="622.2" y1="477.5" x2="622.2" y2="481.7" stroke="#555" stroke-width="1.1"/>
<line x1="650.3" y1="477.5" x2="650.3" y2="481.7" stroke="#555" stroke-width="1.1"/>
<line x1="678.3" y1="477.5" x2="678.3" y2="481.7" stroke="#555" stroke-width="1.1"/>
<line x1="562.0" y1="366.6" x2="566.3" y2="366.6" stroke="#555" stroke-width="1.1"/>
<line x1="562.0" y1="446.5" x2="566.3" y2="446.5" stroke="#555" stroke-width="1.1"/>
<text transform="translate(566.3,496.9) scale(1,1.04)" font-size="12.7" text-anchor="middle" font-weight="normal" font-style="normal" fill="#000" stroke="#000" stroke-width="0.25">0</text>
<text transform="translate(594.2,496.9) scale(1,1.04)" font-size="12.7" text-anchor="middle" font-weight="normal" font-style="normal" fill="#000" stroke="#000" stroke-width="0.25">10</text>
<text transform="translate(622.2,496.9) scale(1,1.04)" font-size="12.7" text-anchor="middle" font-weight="normal" font-style="normal" fill="#000" stroke="#000" stroke-width="0.25">20</text>
<text transform="translate(650.3,496.9) scale(1,1.04)" font-size="12.7" text-anchor="middle" font-weight="normal" font-style="normal" fill="#000" stroke="#000" stroke-width="0.25">30</text>
<text transform="translate(678.3,496.9) scale(1,1.04)" font-size="12.7" text-anchor="middle" font-weight="normal" font-style="normal" fill="#000" stroke="#000" stroke-width="0.25">40</text>
<rect x="566.8" y="344.1" width="89.90" height="17.90" fill="#CD2000"/>
<rect x="566.8" y="370.5" width="85.70" height="18.30" fill="#00168C"/>
<rect x="566.8" y="423.7" width="89.00" height="18.20" fill="#CD2000"/>
<rect x="566.8" y="451" width="74.40" height="17.70" fill="#00168C"/>
<text transform="translate(664.3,363.09999999999997) scale(1,1.04)" font-size="15" text-anchor="middle" font-weight="normal" font-style="normal" fill="#000" stroke="#000" stroke-width="0.25">*</text>
<text transform="translate(662.8,443.9) scale(1,1.04)" font-size="15" text-anchor="middle" font-weight="normal" font-style="normal" fill="#000" stroke="#000" stroke-width="0.25">*</text>
<line x1="419.4" y1="514.6" x2="419.4" y2="656.2" stroke="#777" stroke-width="1.1"/>
<line x1="419.4" y1="656.2" x2="532" y2="656.2" stroke="#555" stroke-width="1.2"/>
<line x1="419.4" y1="656.2" x2="419.4" y2="661.4000000000001" stroke="#555" stroke-width="1.1"/>
<line x1="447.6" y1="656.2" x2="447.6" y2="661.4000000000001" stroke="#555" stroke-width="1.1"/>
<line x1="475.8" y1="656.2" x2="475.8" y2="661.4000000000001" stroke="#555" stroke-width="1.1"/>
<line x1="503.9" y1="656.2" x2="503.9" y2="661.4000000000001" stroke="#555" stroke-width="1.1"/>
<line x1="532.2" y1="656.2" x2="532.2" y2="661.4000000000001" stroke="#555" stroke-width="1.1"/>
<line x1="415.09999999999997" y1="545.5" x2="419.4" y2="545.5" stroke="#555" stroke-width="1.1"/>
<line x1="415.09999999999997" y1="625.1" x2="419.4" y2="625.1" stroke="#555" stroke-width="1.1"/>
<text transform="translate(419.4,679.1) scale(1,1.04)" font-size="12.7" text-anchor="middle" font-weight="normal" font-style="normal" fill="#000" stroke="#000" stroke-width="0.25">0</text>
<text transform="translate(447.6,679.1) scale(1,1.04)" font-size="12.7" text-anchor="middle" font-weight="normal" font-style="normal" fill="#000" stroke="#000" stroke-width="0.25">2</text>
<text transform="translate(475.8,679.1) scale(1,1.04)" font-size="12.7" text-anchor="middle" font-weight="normal" font-style="normal" fill="#000" stroke="#000" stroke-width="0.25">4</text>
<text transform="translate(503.9,679.1) scale(1,1.04)" font-size="12.7" text-anchor="middle" font-weight="normal" font-style="normal" fill="#000" stroke="#000" stroke-width="0.25">6</text>
<text transform="translate(532.2,679.1) scale(1,1.04)" font-size="12.7" text-anchor="middle" font-weight="normal" font-style="normal" fill="#000" stroke="#000" stroke-width="0.25">8</text>
<rect x="419.9" y="523.8" width="56.90" height="17.20" fill="#CD2000"/>
<rect x="419.9" y="550.1" width="59.70" height="17.50" fill="#00168C"/>
<rect x="419.9" y="603.7" width="28.80" height="17.20" fill="#CD2000"/>
<rect x="419.9" y="630.3" width="90.50" height="17.20" fill="#00168C"/>
<text transform="translate(484.4,541.8000000000001) scale(1,1.04)" font-size="15" text-anchor="middle" font-weight="normal" font-style="normal" fill="#000" stroke="#000" stroke-width="0.25">*</text>
<text transform="translate(487.2,569.2) scale(1,1.04)" font-size="15" text-anchor="middle" font-weight="normal" font-style="normal" fill="#000" stroke="#000" stroke-width="0.25">*</text>
<text transform="translate(517.7,648.9000000000001) scale(1,1.04)" font-size="15" text-anchor="middle" font-weight="normal" font-style="normal" fill="#000" stroke="#000" stroke-width="0.25">*</text>
<line x1="566.4" y1="514.4" x2="566.4" y2="656.6" stroke="#777" stroke-width="1.1"/>
<line x1="566.4" y1="656.6" x2="679" y2="656.6" stroke="#555" stroke-width="1.2"/>
<line x1="566.4" y1="656.6" x2="566.4" y2="661.8000000000001" stroke="#555" stroke-width="1.1"/>
<line x1="594.3000000000001" y1="656.6" x2="594.3000000000001" y2="661.8000000000001" stroke="#555" stroke-width="1.1"/>
<line x1="622.3000000000001" y1="656.6" x2="622.3000000000001" y2="661.8000000000001" stroke="#555" stroke-width="1.1"/>
<line x1="650.4" y1="656.6" x2="650.4" y2="661.8000000000001" stroke="#555" stroke-width="1.1"/>
<line x1="678.4" y1="656.6" x2="678.4" y2="661.8000000000001" stroke="#555" stroke-width="1.1"/>
<line x1="562.1" y1="545" x2="566.4" y2="545" stroke="#555" stroke-width="1.1"/>
<line x1="562.1" y1="625.8" x2="566.4" y2="625.8" stroke="#555" stroke-width="1.1"/>
<text transform="translate(566.4,679.1) scale(1,1.04)" font-size="12.7" text-anchor="middle" font-weight="normal" font-style="normal" fill="#000" stroke="#000" stroke-width="0.25">0</text>
<text transform="translate(594.3000000000001,679.1) scale(1,1.04)" font-size="12.7" text-anchor="middle" font-weight="normal" font-style="normal" fill="#000" stroke="#000" stroke-width="0.25">10</text>
<text transform="translate(622.3000000000001,679.1) scale(1,1.04)" font-size="12.7" text-anchor="middle" font-weight="normal" font-style="normal" fill="#000" stroke="#000" stroke-width="0.25">20</text>
<text transform="translate(650.4,679.1) scale(1,1.04)" font-size="12.7" text-anchor="middle" font-weight="normal" font-style="normal" fill="#000" stroke="#000" stroke-width="0.25">30</text>
<text transform="translate(678.4,679.1) scale(1,1.04)" font-size="12.7" text-anchor="middle" font-weight="normal" font-style="normal" fill="#000" stroke="#000" stroke-width="0.25">40</text>
<rect x="566.9" y="523.5" width="93.20" height="17.40" fill="#CD2000"/>
<rect x="566.9" y="549.8" width="79.40" height="17.90" fill="#00168C"/>
<rect x="566.9" y="603.6" width="88.50" height="17.20" fill="#CD2000"/>
<rect x="566.9" y="629.9" width="73.10" height="18.00" fill="#00168C"/>
<text transform="translate(668.4,541.9000000000001) scale(1,1.04)" font-size="15" text-anchor="middle" font-weight="normal" font-style="normal" fill="#000" stroke="#000" stroke-width="0.25">*</text>
<text transform="translate(662.3,621.5) scale(1,1.04)" font-size="15" text-anchor="middle" font-weight="normal" font-style="normal" fill="#000" stroke="#000" stroke-width="0.25">*</text>
<text transform="translate(471.7,694.2) scale(1,1.04)" font-size="11.7" text-anchor="middle" font-weight="normal" font-style="normal" fill="#000" stroke="#000" stroke-width="0.25">% DEGs</text>
<text transform="translate(614.6,694.2) scale(1,1.04)" font-size="11.7" text-anchor="middle" font-weight="normal" font-style="normal" fill="#000" stroke="#000" stroke-width="0.25">% DEGs</text>
<text transform="translate(377.3,362.0) scale(1,0.95)" font-size="12" text-anchor="middle" font-weight="normal" font-style="normal" fill="#000" stroke="#000" stroke-width="0.25"><tspan font-style="italic">Tet3<tspan font-size="8" dy="-4">&#8211;/&#8211;</tspan></tspan><tspan dy="4"> only</tspan></text>
<text transform="translate(377.3,374.8) scale(1,1.0)" font-size="11.5" text-anchor="middle" font-weight="normal" font-style="normal" fill="#000" stroke="#000" stroke-width="0.25">DEGs</text>
<text transform="translate(377.3,387.7) scale(1,1.0)" font-size="10.15" text-anchor="middle" font-weight="normal" font-style="normal" fill="#000" stroke="#000" stroke-width="0.25">(non-catalytic)</text>
<text transform="translate(384.6,436.2) scale(1,1.0)" font-size="13.5" text-anchor="middle" font-weight="normal" font-style="normal" fill="#000" stroke="#000" stroke-width="0.25"><tspan font-style="italic">Tet3<tspan font-size="8.6" dy="-3.8">m/m</tspan></tspan></text>
<text transform="translate(384.6,451.5) scale(1,1.0)" font-size="13" text-anchor="middle" font-weight="normal" font-style="normal" fill="#000" stroke="#000" stroke-width="0.25">DEGs</text>
<text transform="translate(384.6,463.3) scale(1,1.0)" font-size="10.25" text-anchor="middle" font-weight="normal" font-style="normal" fill="#000" stroke="#000" stroke-width="0.25">(catalytic)</text>
<text transform="translate(377.3,544.9) scale(1,0.95)" font-size="12" text-anchor="middle" font-weight="normal" font-style="normal" fill="#000" stroke="#000" stroke-width="0.25"><tspan font-style="italic">Tet3<tspan font-size="8" dy="-4">&#8211;/&#8211;</tspan></tspan><tspan dy="4"> only</tspan></text>
<text transform="translate(377.3,557.4) scale(1,1.0)" font-size="11.5" text-anchor="middle" font-weight="normal" font-style="normal" fill="#000" stroke="#000" stroke-width="0.25">DEGs</text>
<text transform="translate(377.3,570.2) scale(1,1.0)" font-size="10.15" text-anchor="middle" font-weight="normal" font-style="normal" fill="#000" stroke="#000" stroke-width="0.25">(non-catalytic)</text>
<text transform="translate(381.4,616.2) scale(1,1.0)" font-size="12" text-anchor="middle" font-weight="normal" font-style="normal" fill="#000" stroke="#000" stroke-width="0.25"><tspan font-style="italic">Tet3</tspan><tspan font-size="7.6" dy="-3.6">m/m</tspan></text>
<text transform="translate(381.4,629.2) scale(1,1.0)" font-size="11.4" text-anchor="middle" font-weight="normal" font-style="normal" fill="#000" stroke="#000" stroke-width="0.25">DEGs</text>
<text transform="translate(381.4,642.0) scale(1,1.0)" font-size="10.1" text-anchor="middle" font-weight="normal" font-style="normal" fill="#000" stroke="#000" stroke-width="0.25">(catalytic)</text>
<text transform="translate(317.7,423.7) rotate(-90) scale(1,1.0)" font-size="13" text-anchor="middle" font-weight="normal" font-style="normal" fill="#000" stroke="#000" stroke-width="0.25"><tspan font-style="italic">Tet3<tspan font-size="8.5" dy="-4.5">m/m</tspan></tspan><tspan dy="4.50"> DMRs</tspan></text>
<text transform="translate(332.9,423.7) rotate(-90) scale(1,1.0)" font-size="12.75" text-anchor="middle" font-weight="normal" font-style="normal" fill="#000" stroke="#000" stroke-width="0.25">associated to DEGs</text>
<text transform="translate(317.7,585.4) rotate(-90) scale(1,1.0)" font-size="11.6" text-anchor="middle" font-weight="normal" font-style="normal" fill="#000" stroke="#000" stroke-width="0.25"><tspan font-style="italic">Tet3<tspan font-size="7.584615384615384" dy="-4.015384615384615">&#8211;/&#8211;</tspan></tspan><tspan dy="4.02"> DMRs</tspan></text>
<text transform="translate(332.9,585.4) rotate(-90) scale(1,1.0)" font-size="12.25" text-anchor="middle" font-weight="normal" font-style="normal" fill="#000" stroke="#000" stroke-width="0.25">associated to DEGs</text>
<rect x="453.2" y="708.6" width="14.3" height="13.2" fill="#CC0000"/>
<text transform="translate(471,721.2) scale(1,1.04)" font-size="12.85" text-anchor="start" font-weight="normal" font-style="normal" fill="#000" stroke="#000" stroke-width="0.25">Upregulated</text>
<rect x="557" y="708.6" width="14.3" height="13.2" fill="#00008B"/>
<text transform="translate(575.4,721.2) scale(1,1.04)" font-size="12.85" text-anchor="start" font-weight="normal" font-style="normal" fill="#000" stroke="#000" stroke-width="0.25">Downregulated</text>
</svg>
</body></html>
